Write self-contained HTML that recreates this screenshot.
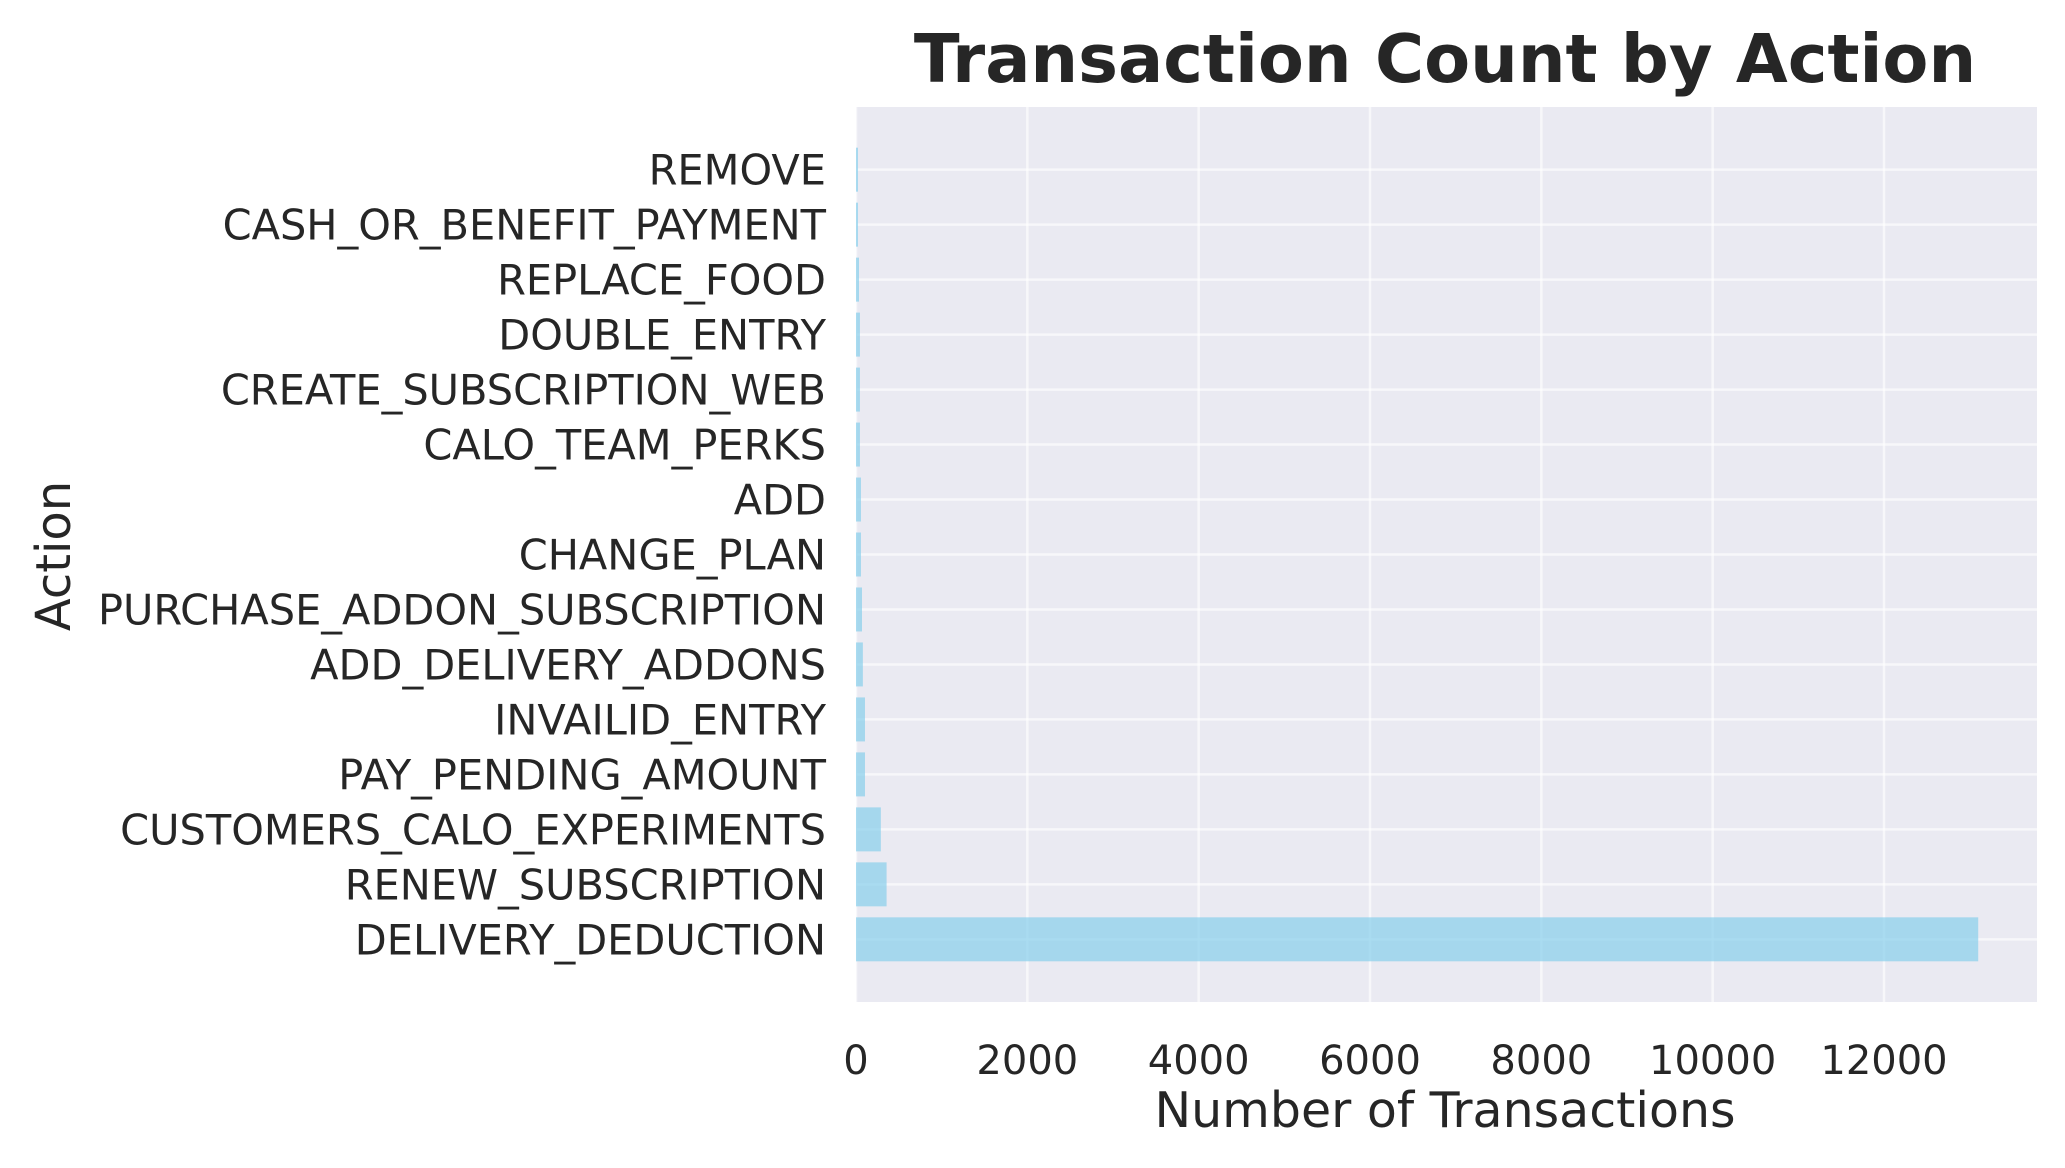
<!DOCTYPE html>
<html><head><meta charset="utf-8"><style>
html,body{margin:0;padding:0;background:#fff;}
svg{display:block;font-family:"DejaVu Sans","Liberation Sans",sans-serif;}
</style></head><body>
<svg id="chart" width="2065" height="1168" xmlns="http://www.w3.org/2000/svg">
<text x="1445" y="82" text-anchor="middle" font-size="67" font-weight="bold" fill="#262626">Transaction Count by Action</text>
<rect x="856" y="107" width="1181" height="895" fill="#EAEAF2"/>
<g id="grid"></g><g id="bars"></g><g id="yticks"></g><g id="xticks"></g>
<text x="1445" y="1127" text-anchor="middle" font-size="49" fill="#262626">Number of Transactions</text>
<text transform="translate(70,556) rotate(-90)" text-anchor="middle" font-size="48" fill="#262626">Action</text>
</svg>
<script>
const categories = ["DELIVERY_DEDUCTION","RENEW_SUBSCRIPTION","CUSTOMERS_CALO_EXPERIMENTS","PAY_PENDING_AMOUNT","INVAILID_ENTRY","ADD_DELIVERY_ADDONS","PURCHASE_ADDON_SUBSCRIPTION","CHANGE_PLAN","ADD","CALO_TEAM_PERKS","CREATE_SUBSCRIPTION_WEB","DOUBLE_ENTRY","REPLACE_FOOD","CASH_OR_BENEFIT_PAYMENT","REMOVE"];
const counts = [13100,357,290,105,105,80,70,58,58,46,46,46,35,23,23];
const xTicks = [0,2000,4000,6000,8000,10000,12000];

const NS="http://www.w3.org/2000/svg";
const L=856,R=2037,T=107,B=1002;
const xs=v=>L+v*(1884-856)/12000;
const n=categories.length;
const y0=-1.14, y1=(n-1)+1.14;
const ys=p=>B-(p-y0)/(y1-y0)*(B-T);
const band=(B-T)/(y1-y0);
function mk(tag,attrs,parent){const e=document.createElementNS(NS,tag);for(const k in attrs)e.setAttribute(k,attrs[k]);parent.appendChild(e);return e;}
const grid=document.getElementById('grid'),bars=document.getElementById('bars'),yt=document.getElementById('yticks'),xt=document.getElementById('xticks');
xTicks.forEach(v=>{
  const g=mk('line',{x1:xs(v),x2:xs(v),y1:T,y2:B,stroke:'#fff','stroke-opacity':0.6,'stroke-width':2.5},grid);
  
  
  const t=mk('text',{x:xs(v),y:1074,'text-anchor':'middle','font-size':40,fill:'#262626'},xt);
  t.textContent=v;
  
  
});
categories.forEach((c,i)=>{
  const g=mk('line',{x1:L,x2:R,y1:ys(i),y2:ys(i),stroke:'#fff','stroke-opacity':0.6,'stroke-width':2.5},grid);
  
  
  const b=mk('rect',{x:L,y:ys(i)-band*0.4,width:Math.max(0,xs(counts[i])-L),height:band*0.8,fill:'#87CEEB','fill-opacity':0.7},bars);
  
  
  const t=mk('text',{x:826,y:ys(i)+15,'text-anchor':'end','font-size':41.5,fill:'#262626'},yt);
  t.textContent=c;
  
  
});
</script>
</body></html>
